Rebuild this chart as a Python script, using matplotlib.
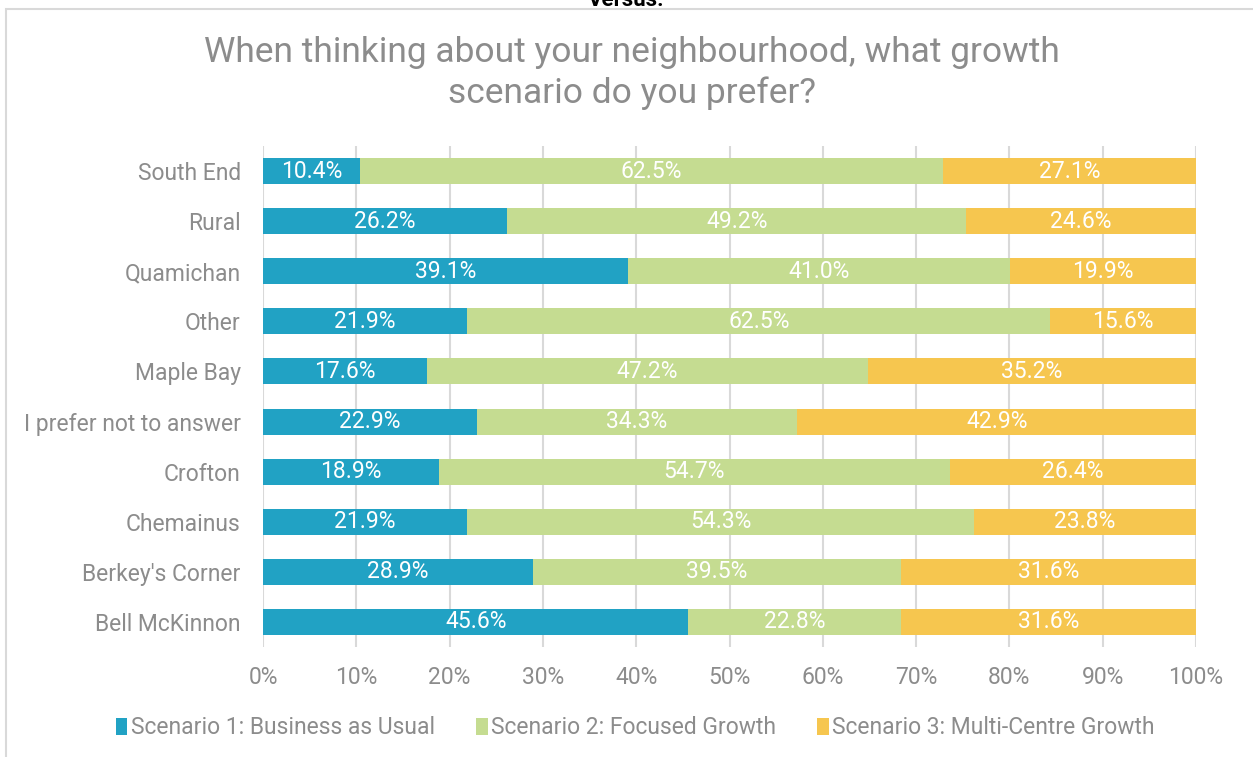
import numpy as np
import matplotlib.pyplot as plt
from matplotlib.patches import Rectangle

plt.rcParams['font.family'] = ['Roboto', 'DejaVu Sans']

# bottom to top, as drawn
areas = ['Bell McKinnon', "Berkey's Corner", 'Chemainus', 'Crofton',
         'I prefer not to answer', 'Maple Bay', 'Other', 'Quamichan',
         'Rural', 'South End']
scenario_1 = [45.6, 28.9, 21.9, 18.9, 22.9, 17.6, 21.9, 39.1, 26.2, 10.4]
scenario_2 = [22.8, 39.5, 54.3, 54.7, 34.3, 47.2, 62.5, 41.0, 49.2, 62.5]
scenario_3 = [31.6, 31.6, 23.8, 26.4, 42.9, 35.2, 15.6, 19.9, 24.6, 27.1]
series_names = ['Scenario 1: Business as Usual', 'Scenario 2: Focused Growth',
                'Scenario 3: Multi-Centre Growth']
colors = ['#21A2C4', '#C5DC91', '#F6C64F']
gray = '#8C8C8C'

fig = plt.figure(figsize=(12.53, 7.57), dpi=100)
ax = fig.add_axes([263 / 1253, 1 - 647 / 757, 933 / 1253, 501 / 757])

# chart border (extends beyond the crop on right/bottom)
fig.patches.append(Rectangle((6 / 1253, -0.1), 1.2, 0.1 + (757 - 9) / 757,
                             transform=fig.transFigure, fill=False,
                             edgecolor='#D9D9D9', linewidth=1.5))
fig.text(0.5, 1.0, 'Versus:', ha='center', va='center', fontsize=16,
         color='black', fontweight='bold')

y = np.arange(len(areas))
left = np.zeros(len(areas))
for vals, col, name in zip([scenario_1, scenario_2, scenario_3], colors, series_names):
    vals = np.array(vals)
    bars = ax.barh(y, vals, left=left, height=0.52, color=col, label=name, zorder=2)
    for b, v in zip(bars, vals):
        ax.text(b.get_x() + b.get_width() / 2, b.get_y() + b.get_height() / 2,
                f'{v:.1f}%', ha='center', va='center', color='white', fontsize=16.5)
    left += vals

ax.set_xlim(0, 100)
ax.set_ylim(-0.5, len(areas) - 0.5)
ax.set_xticks(np.arange(0, 101, 10))
ax.set_xticklabels([f'{t}%' for t in range(0, 101, 10)])
ax.set_yticks(y)
ax.set_yticklabels(areas)
ax.tick_params(length=0, labelsize=16.5, labelcolor=gray)
ax.tick_params(axis='x', pad=14)
ax.tick_params(axis='y', pad=16)
ax.grid(axis='x', color='#D9D9D9', linewidth=1.5, zorder=0)
ax.set_axisbelow(True)
for s in ax.spines.values():
    s.set_visible(False)

fig.text(0.504, 1 - 73 / 757,
         'When thinking about your neighbourhood, what growth\nscenario do you prefer?',
         ha='center', va='center', fontsize=25.5, color=gray, linespacing=1.3)

leg = fig.legend(loc='center', bbox_to_anchor=(0.507, 1 - 728 / 757), ncol=3,
                 frameon=False, fontsize=16.5, handlelength=0.5, handleheight=0.8,
                 handletextpad=0.15, columnspacing=1.8)
for t in leg.get_texts():
    t.set_color(gray)

fig.savefig('out.png', dpi=100)
